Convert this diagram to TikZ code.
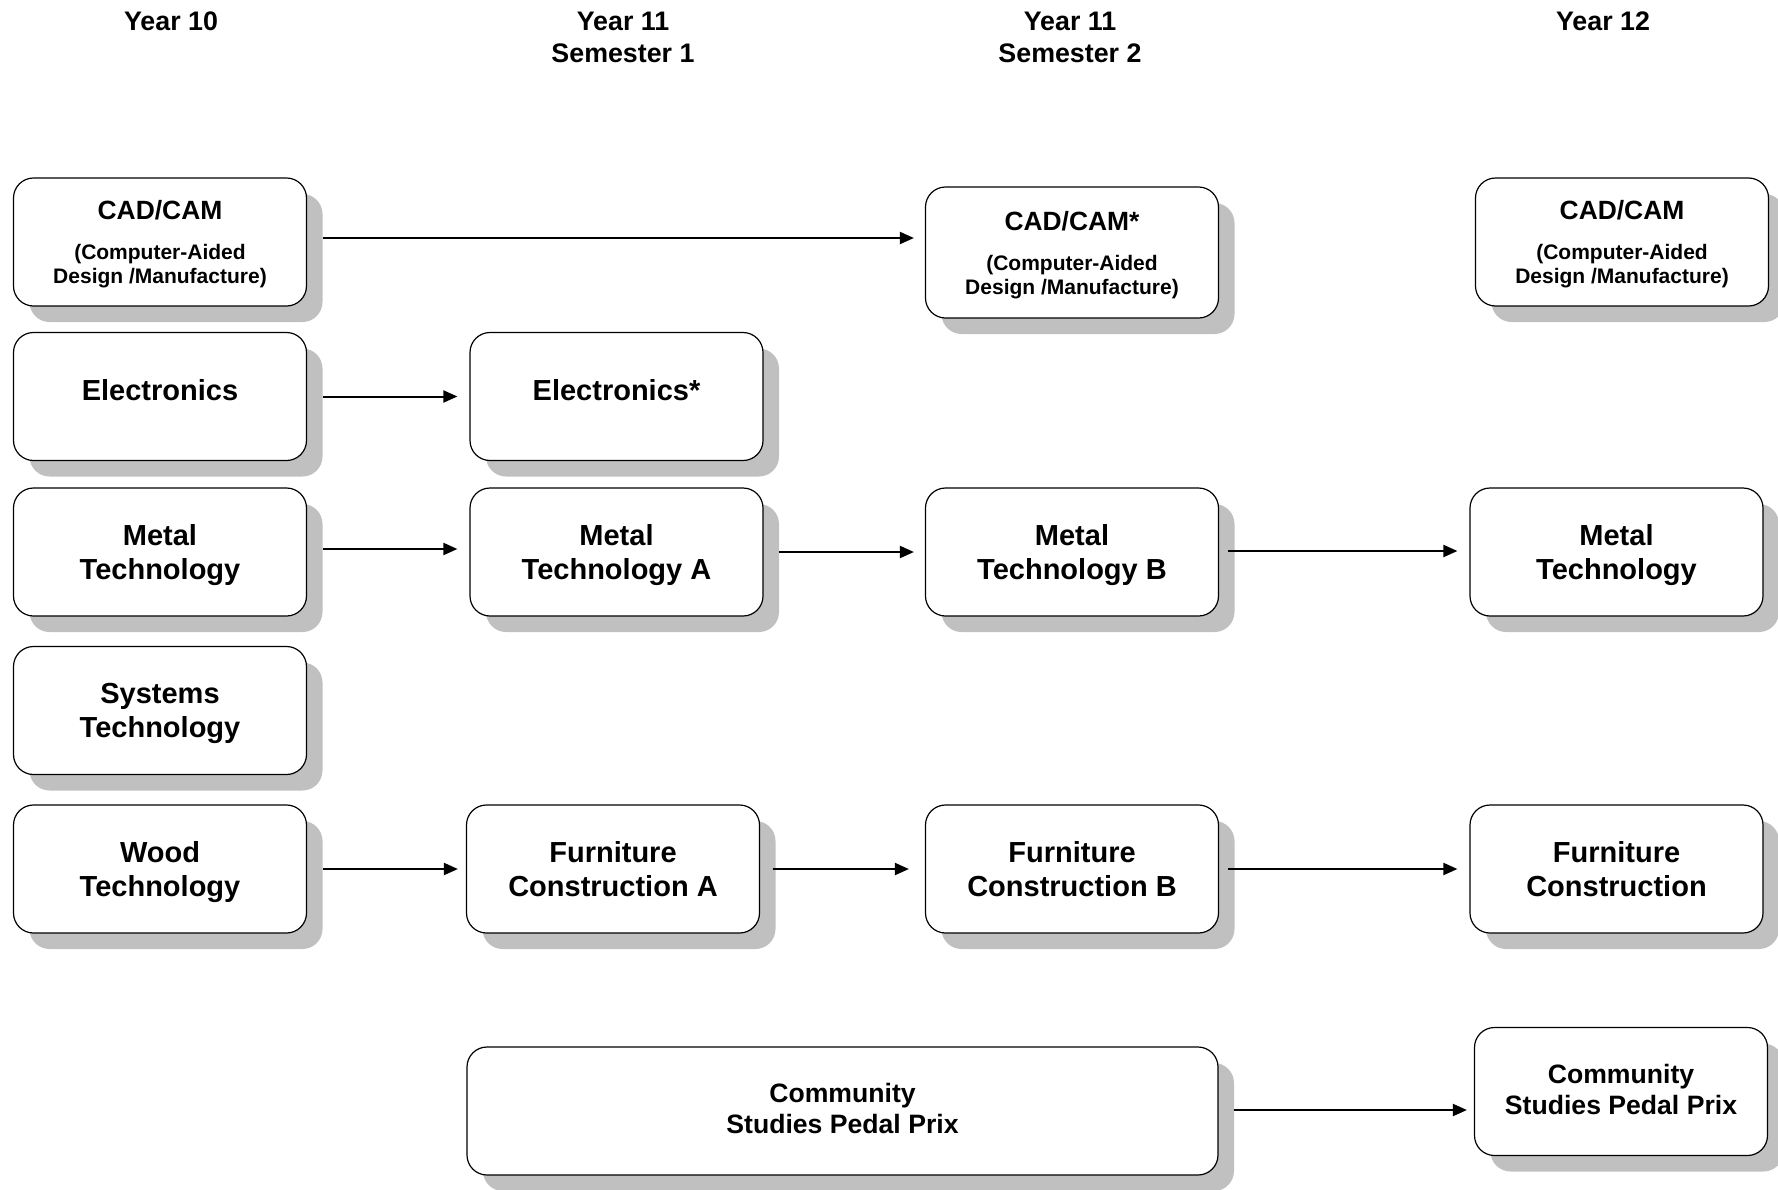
\documentclass[tikz,border=0pt]{standalone}
\usepackage{fontspec}
\setmainfont{Liberation Sans}
\usetikzlibrary{arrows.meta,shadows}
\definecolor{shadowgray}{RGB}{192,192,192}
\begin{document}
\begin{tikzpicture}[x=0.5pt,y=-0.5pt,
  box/.style={draw=black, line width=0.6pt, fill=white, rounded corners=10pt,
    minimum width=146.5pt, minimum height=64pt, align=center, inner sep=0pt,
    text depth=0pt,
    font=\bfseries\fontsize{14.5}{17}\selectfont,
    drop shadow={shadow xshift=8pt, shadow yshift=-8pt, fill=shadowgray, opacity=1}},
  onebox/.style={box, text depth=6.8pt},
  cadbox/.style={box, font=\bfseries\fontsize{10.5}{12}\selectfont},
  combox/.style={box, text depth=2.2pt, font=\bfseries\fontsize{13.3}{15.5}\selectfont},
  head/.style={align=center, inner sep=0pt, font=\bfseries\fontsize{13.4}{16}\selectfont},
  arr/.style={line width=1pt, -{Triangle[length=7pt,width=6pt]}}
]
\useasboundingbox (0,0) rectangle (1778,1189);

% headers
\node[head] (h1) at (171,21.2) {Year 10};
\node[head] (h2) at (623,37.7) {Year 11\\Semester 1};
\node[head] (h3) at (1070,37.7) {Year 11\\Semester 2};
\node[head] (h4) at (1603,21.2) {Year 12};

% column 1
\node[cadbox] (cad1) at (160,242) {{\fontsize{13.2}{16}\selectfont CAD/CAM}\\[8pt](Computer-Aided\\Design /Manufacture)};
\node[onebox] (ele1) at (160,396.5) {Electronics};
\node[box] (met1) at (160,552) {Metal\\Technology};
\node[box] (sys1) at (160,710.5) {Systems\\Technology};
\node[box] (wood1) at (160,869) {Wood\\Technology};

% column 2
\node[onebox] (ele2) at (616.5,396.5) {Electronics*};
\node[box] (met2) at (616.5,552) {Metal\\Technology A};
\node[box] (fur2) at (613,869) {Furniture\\Construction A};
\node[combox, minimum width=375.5pt] (com2) at (842.5,1111) {Community\\Studies Pedal Prix};

% column 3
\node[cadbox, minimum height=65.5pt] (cad3) at (1072,252.5) {{\fontsize{13.2}{16}\selectfont CAD/CAM*}\\[8pt](Computer-Aided\\Design /Manufacture)};
\node[box] (met3) at (1072,552) {Metal\\Technology B};
\node[box] (fur3) at (1072,869) {Furniture\\Construction B};

% column 4
\node[cadbox] (cad4) at (1622,242) {{\fontsize{13.2}{16}\selectfont CAD/CAM}\\[8pt](Computer-Aided\\Design /Manufacture)};
\node[box] (met4) at (1616.5,552) {Metal\\Technology};
\node[box] (fur4) at (1616.5,869) {Furniture\\Construction};
\node[combox] (com4) at (1621,1091.5) {Community\\Studies Pedal Prix};

% arrows
\draw[arr] ([xshift=8pt,yshift=2pt]cad1.east) -- ([xshift=-5.5pt,yshift=2pt]cad1.east -| cad3.west);
\draw[arr] ([xshift=8pt]ele1.east) -- ([xshift=-6pt]ele1.east -| ele2.west);
\draw[arr] ([xshift=8pt,yshift=1.5pt]met1.east) -- ([xshift=-6pt,yshift=1.5pt]met1.east -| met2.west);
\draw[arr] ([xshift=7.5pt]met2.east) -- ([xshift=-5.5pt]met2.east -| met3.west);
\draw[arr] ([xshift=4.5pt,yshift=0.5pt]met3.east) -- ([xshift=-6pt,yshift=0.5pt]met3.east -| met4.west);
\draw[arr] ([xshift=8pt]wood1.east) -- ([xshift=-4pt]wood1.east -| fur2.west);
\draw[arr] ([xshift=6.5pt]fur2.east) -- ([xshift=-8pt]fur2.east -| fur3.west);
\draw[arr] ([xshift=4.5pt]fur3.east) -- ([xshift=-6pt]fur3.east -| fur4.west);
\draw[arr] ([xshift=7.5pt,yshift=0.5pt]com2.east) -- ([xshift=-3.5pt,yshift=0.5pt]com2.east -| com4.west);
\end{tikzpicture}
\end{document}
